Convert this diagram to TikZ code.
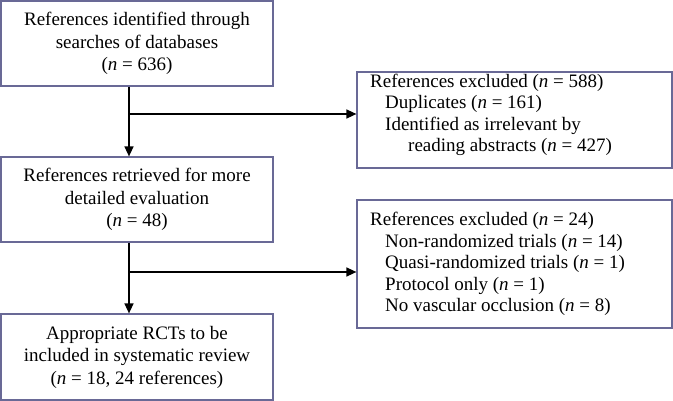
\documentclass[tikz,border=0pt]{standalone}
\usepackage{fontspec}
\setmainfont{Liberation Serif}
\usetikzlibrary{arrows.meta}
\definecolor{boxc}{RGB}{105,105,150}
\begin{document}
\begin{tikzpicture}[x=1pt,y=-1pt,
  box/.style={draw=boxc,line width=1.2pt,minimum width=272pt,inner sep=0pt,font=\fontsize{19}{22.5}\selectfont,align=center},
  xbox/.style={draw=boxc,line width=1.2pt,minimum width=315pt,inner sep=0pt},
  txt/.style={font=\fontsize{19}{21.5}\selectfont,align=left,inner sep=0pt,anchor=west},
  conn/.style={line width=1.4pt},
  arr/.style={conn,-{Triangle[length=10pt,width=9pt]}}]
\useasboundingbox (0,0) rectangle (673,401);
\node[box,minimum height=85pt] (b1) at (137,43.5) {References identified through\\searches of databases\\(\textit{n} = 636)};
\node[box,minimum height=85pt] (b2) at (137,199.5) {References retrieved for more\\detailed evaluation\\(\textit{n} = 48)};
\node[box,minimum height=86pt] (b3) at (137,357) {Appropriate RCTs to be\\included in systematic review\\(\textit{n} = 18, 24 references)};
\node[xbox,minimum height=96pt] (x1) at (514.5,120) {};
\node[txt] (t1) at (370,115) {References excluded (\textit{n} = 588)\\\hspace*{15pt}Duplicates (\textit{n} = 161)\\\hspace*{15pt}Identified as irrelevant by\\\hspace*{38pt}reading abstracts (\textit{n} = 427)};
\node[xbox,minimum height=128pt] (x2) at (514.5,264) {};
\node[txt] (t2) at (370,264) {References excluded (\textit{n} = 24)\\\hspace*{15pt}Non-randomized trials (\textit{n} = 14)\\\hspace*{15pt}Quasi-randomized trials (\textit{n} = 1)\\\hspace*{15pt}Protocol only (\textit{n} = 1)\\\hspace*{15pt}No vascular occlusion (\textit{n} = 8)};
\coordinate (j1) at (129,114);
\coordinate (j2) at (129,272);
\draw[arr] (b1.south -| j1) -- (b2.north -| j1);
\draw[arr] (j1) -- (x1.west |- j1);
\draw[arr] (b2.south -| j2) -- (b3.north -| j2);
\draw[arr] (j2) -- (x2.west |- j2);
\end{tikzpicture}
\end{document}
